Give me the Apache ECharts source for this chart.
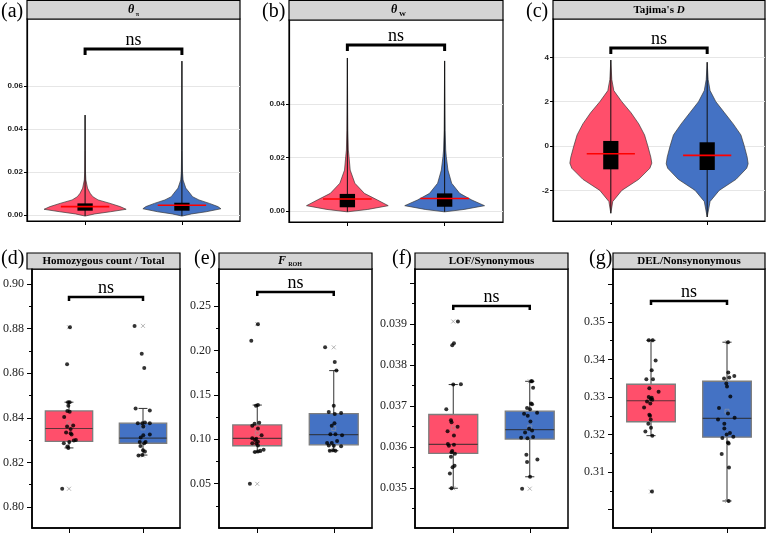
<!DOCTYPE html>
<html>
<head>
<meta charset="utf-8">
<title>Diversity and genetic load, two groups</title>
<script src="https://cdn.jsdelivr.net/npm/echarts@6.0.0/dist/echarts.min.js"></script>
<style>
  html, body { margin: 0; padding: 0; background: #fff; }
  #chart { width: 767px; height: 534px; }
</style>
</head>
<body>
<div id="chart"></div>
<script>
// ---- violin outlines: [value, half width in group units] ----
const piRed = [[-0.0005, 0], [0.0005, 0.10], [0.0015, 0.26], [0.00265, 0.424], [0.0039, 0.362], [0.0054, 0.258], [0.007, 0.134], [0.0085, 0.08], [0.0101, 0.052], [0.0125, 0.025], [0.0163, 0.008], [0.02, 0.004], [0.03, 0.002], [0.0465, 0]];
const piBlue = [[-0.0005, 0], [0.0005, 0.10], [0.0015, 0.25], [0.0029, 0.403], [0.0039, 0.372], [0.0054, 0.284], [0.007, 0.176], [0.0085, 0.11], [0.0101, 0.083], [0.0125, 0.04], [0.0163, 0.012], [0.02, 0.006], [0.03, 0.003], [0.0716, 0]];
const wRed = [[-0.0003, 0], [0.0006, 0.21], [0.002, 0.42], [0.0041, 0.31], [0.0066, 0.175], [0.0104, 0.077], [0.0153, 0.029], [0.0203, 0.017], [0.0228, 0.01], [0.03, 0.005], [0.04, 0.003], [0.0572, 0]];
const wBlue = [[-0.0003, 0], [0.0006, 0.2], [0.002, 0.41], [0.0041, 0.28], [0.0066, 0.155], [0.0104, 0.072], [0.0153, 0.034], [0.0203, 0.017], [0.0228, 0.011], [0.03, 0.005], [0.04, 0.003], [0.0561, 0]];
const tajRed = [[-3.03, 0], [-2.5, 0.02], [-2.0, 0.114], [-1.5, 0.29], [-1.0, 0.405], [-0.77, 0.425], [-0.5, 0.415], [0, 0.384], [0.5, 0.35], [1.0, 0.29], [1.5, 0.21], [2.0, 0.114], [2.5, 0.031], [3.0, 0.01], [3.88, 0]];
const tajBlue = [[-3.2, 0], [-2.5, 0.03], [-2.0, 0.125], [-1.5, 0.3], [-1.0, 0.41], [-0.8, 0.425], [-0.5, 0.415], [0, 0.385], [0.5, 0.35], [1.0, 0.27], [1.5, 0.18], [2.0, 0.09], [2.5, 0.03], [3.0, 0.01], [3.78, 0]];

// inner box of the violins: [q1, q3, mean]
const piStats = [[0.0020, 0.0054, 0.0039], [0.0020, 0.0057, 0.0045]];
const wStats = [[0.0014, 0.0064, 0.0045], [0.0016, 0.0066, 0.0047]];
const tajStats = [[-1.05, 0.23, -0.35], [-1.08, 0.17, -0.42]];

// ---- per-individual values (and horizontal jitter) ----
const homoRed = [0.8806, 0.8640, 0.8470, 0.8470, 0.8454, 0.8431, 0.8427, 0.8404, 0.8365, 0.8361, 0.8350, 0.8334, 0.8331, 0.8325, 0.8301, 0.8298, 0.8286, 0.8291, 0.8271, 0.8265, 0.8082];
const homoRedJit = [0.013, -0.026, -0.013, 0.009, -0.009, -0.022, 0.009, -0.065, 0.057, -0.026, 0.022, -0.039, 0.022, 0.035, 0.092, 0.065, -0.070, 0.004, -0.022, -0.009, -0.092];
const homoBlue = [0.8812, 0.8687, 0.8623, 0.8442, 0.8433, 0.8376, 0.8376, 0.8379, 0.8376, 0.8361, 0.8325, 0.8322, 0.8312, 0.8292, 0.8292, 0.8286, 0.8274, 0.8254, 0.8249, 0.8231, 0.8233];
const homoBlueJit = [-0.114, -0.017, 0.017, -0.100, 0.092, -0.070, -0.009, 0.026, 0.092, 0.004, 0.092, 0.004, -0.031, -0.044, 0.035, 0.017, -0.035, 0, 0.026, -0.061, -0.009];

const frohRed = [0.2295, 0.2108, 0.1384, 0.1377, 0.1185, 0.1175, 0.1150, 0.1120, 0.1045, 0.1010, 0.1005, 0.0990, 0.0970, 0.0955, 0.0950, 0.0930, 0.0880, 0.0870, 0.0855, 0.0860, 0.0497];
const frohRedJit = [0.009, -0.078, 0.009, -0.017, 0.026, -0.035, -0.065, 0.009, 0.057, -0.065, -0.013, -0.030, 0.009, -0.065, -0.013, 0.009, 0.083, 0.039, -0.030, 0.009, -0.096];
const frohBlue = [0.2034, 0.1869, 0.1772, 0.1377, 0.1306, 0.1284, 0.1295, 0.1180, 0.1150, 0.1056, 0.1056, 0.1045, 0.0980, 0.0957, 0.0957, 0.0930, 0.0925, 0.0920, 0.0870, 0.0870, 0.0875];
const frohBlueJit = [-0.113, 0.013, 0.035, 0, -0.065, 0.013, 0.096, 0.009, -0.026, -0.044, 0.022, 0.109, 0.044, -0.087, -0.026, -0.065, 0, 0.096, -0.052, 0.022, -0.009];

const lofRed = [0.03906, 0.03853, 0.03848, 0.03753, 0.03752, 0.03692, 0.03665, 0.03660, 0.03649, 0.03638, 0.03628, 0.03607, 0.03603, 0.03605, 0.03590, 0.03587, 0.03583, 0.03576, 0.03554, 0.03550, 0.03535, 0.03499];
const lofRedJit = [0.061, 0.009, -0.013, 0.100, 0, -0.091, -0.030, -0.022, 0.057, -0.074, 0.009, -0.070, -0.057, 0.009, -0.013, -0.022, 0.022, -0.030, 0.017, -0.009, -0.044, -0.022];
const lofBlue = [0.03760, 0.03760, 0.03744, 0.03706, 0.03704, 0.03695, 0.03692, 0.03681, 0.03676, 0.03683, 0.03662, 0.03644, 0.03640, 0.03635, 0.03622, 0.03621, 0.03624, 0.03581, 0.03569, 0.03563, 0.03527, 0.03498];
const lofBlueJit = [0.017, 0.030, 0.044, 0.017, 0.030, -0.035, 0.004, -0.074, -0.026, 0.096, 0.009, -0.009, 0.030, -0.061, -0.113, -0.030, 0.044, -0.044, 0.100, -0.035, 0.004, -0.100];

const delRed = [0.3451, 0.3451, 0.3397, 0.3371, 0.3347, 0.3347, 0.3323, 0.3314, 0.3300, 0.3298, 0.3295, 0.3293, 0.3288, 0.3283, 0.3272, 0.3253, 0.3250, 0.3240, 0.3229, 0.3218, 0.3208, 0.3197, 0.3048];
const delRedJit = [-0.030, 0.022, 0.061, 0.009, -0.061, 0.026, -0.022, 0.100, -0.030, 0.009, -0.004, 0.017, -0.052, -0.009, -0.091, -0.022, -0.013, -0.004, -0.035, 0, -0.074, 0.017, 0.013];
const delBlue = [0.3446, 0.3365, 0.3356, 0.3352, 0.3349, 0.3336, 0.3328, 0.3301, 0.3271, 0.3256, 0.3245, 0.3240, 0.3229, 0.3216, 0.3204, 0.3200, 0.3194, 0.3191, 0.3179, 0.3176, 0.3148, 0.3112, 0.3023];
const delBlueJit = [0.013, 0.017, 0.096, 0.030, -0.039, -0.009, 0, 0.044, -0.105, 0.013, 0.100, -0.118, -0.035, -0.035, 0.039, -0.004, 0.083, -0.061, 0.013, 0.022, -0.070, 0.026, 0.022];

// box stats: [lower whisker, q1, median, q3, upper whisker], and group means
const homoBox = [[0.8265, 0.8294, 0.8352, 0.8431, 0.8470], [0.8233, 0.8286, 0.8309, 0.8376, 0.8442]];
const frohBox = [[0.0855, 0.0926, 0.1008, 0.1160, 0.1384], [0.0870, 0.0937, 0.1052, 0.1287, 0.1772]];
const lofBox = [[0.03499, 0.03584, 0.03606, 0.03679, 0.03752], [0.03527, 0.03619, 0.03642, 0.03687, 0.03760]];
const delBox = [[0.3197, 0.3234, 0.3290, 0.3334, 0.3451], [0.3023, 0.3193, 0.3243, 0.3342, 0.3446]];
const homoMean = [0.8376, 0.8355];
const frohMean = [0.107, 0.112];
const lofMean = [0.03646, 0.03648];
const delMean = [0.3295, 0.3262];

// ---- axis ticks / labels ----
const piTicks = [0, 0.02, 0.04, 0.06];
const wTicks = [0, 0.02, 0.04];
const tajTicks = [-2, 0, 2, 4];
const homoTicks = [0.80, 0.82, 0.84, 0.86, 0.88, 0.90];
const homoMinor = [0.81, 0.83, 0.85, 0.87, 0.89];
const frohTicks = [0.05, 0.10, 0.15, 0.20, 0.25];
const frohMinor = [0.025, 0.075, 0.125, 0.175, 0.225, 0.275];
const lofTicks = [0.035, 0.036, 0.037, 0.038, 0.039, 0.040];
const lofLabels = [0.035, 0.036, 0.037, 0.038, 0.039];
const lofMinor = [0.0345, 0.0355, 0.0365, 0.0375, 0.0385, 0.0395];
const delTicks = [0.30, 0.31, 0.32, 0.33, 0.34, 0.35, 0.36];
const delLabels = [0.31, 0.32, 0.33, 0.34, 0.35];
const delMinor = [0.305, 0.315, 0.325, 0.335, 0.345, 0.355];

// height of the "ns" brackets
const piBracket = 0.0772, wBracket = 0.0621, tajBracket = 4.42;
const homoBracket = 0.8942, frohBracket = 0.2657, lofBracket = 0.03944, delBracket = 0.3556;

const RED = '#ff4f6b';
const BLUE = '#4472c4';
const COLORS = [RED, BLUE];
const SERIF = '"Liberation Serif", "Times New Roman", serif';
const SANS = '"Liberation Sans", Arial, sans-serif';

const grid = [], xAxis = [], yAxis = [], series = [], graphic = [];

function header(x, y, w, h) {
  graphic.push({ type: 'rect', shape: { x, y, width: w, height: h }, style: { fill: '#d4d4d4', stroke: '#000', lineWidth: 1.2 } });
}
function label(str, x, y, font, align) {
  graphic.push({ type: 'text', x, y, style: { text: str, font, fill: '#000', textAlign: align || 'center', textVerticalAlign: 'middle' } });
}

function addAxes(p, top) {
  const gi = grid.length;
  grid.push({ left: p.left, top: p.top, width: p.width, height: p.height, show: true, borderColor: '#000', borderWidth: top ? 1.2 : 1.5 });
  const xi = xAxis.length;
  xAxis.push({
    gridIndex: gi, type: 'value', min: top ? 0.4 : 0.5, max: top ? 2.6 : 2.5,
    axisLine: { onZero: false, lineStyle: { color: '#000', width: top ? 1.2 : 1.5 } },
    axisTick: { customValues: [1, 2], length: top ? 4 : 5, lineStyle: { color: '#000', width: 1 } },
    axisLabel: { show: false }, splitLine: { show: false }
  });
  const yi = yAxis.length;
  yAxis.push({
    gridIndex: gi, type: 'value', min: p.min, max: p.max,
    axisLine: { show: true, onZero: false, lineStyle: { color: '#000', width: top ? 1.2 : 1.5 } },
    axisTick: { show: true, customValues: p.ticks, length: top ? 3 : 5, lineStyle: { color: '#000', width: 1 } },
    axisLabel: top
      ? { customValues: p.labels || p.ticks, formatter: v => v.toFixed(p.dec), fontFamily: SANS, fontWeight: 'bold', fontSize: 8, color: '#222', margin: 4 }
      : { customValues: p.labels || p.ticks, formatter: v => v.toFixed(p.dec), fontFamily: SERIF, fontSize: 12, color: '#222', margin: 8 },
    splitLine: { show: top, lineStyle: { color: '#e6e6e6', width: 1 } }
  });
  if (p.minor) {
    yAxis.push({
      gridIndex: gi, type: 'value', min: p.min, max: p.max, position: 'left',
      axisLine: { show: false, onZero: false },
      axisTick: { show: true, customValues: p.minor, length: 3, lineStyle: { color: '#000', width: 1 } },
      axisLabel: { show: false }, splitLine: { show: false }
    });
  }
  return { xi, yi };
}

function addBracket(ax, level, top) {
  series.push({
    type: 'custom', xAxisIndex: ax.xi, yAxisIndex: ax.yi, silent: true, z: 5,
    data: [[1.5, level]],
    renderItem: (params, api) => {
      const a = api.coord([1, level]), b = api.coord([2, level]);
      const leg = top ? 6 : 4;
      return {
        type: 'group', children: [
          { type: 'polyline', shape: { points: [[a[0], a[1] + leg], a, b, [b[0], b[1] + leg]] }, style: { stroke: '#000', lineWidth: top ? 3 : 2.5, fill: null } },
          { type: 'text', x: (a[0] + b[0]) / 2, y: a[1] - 9, style: { text: 'ns', font: '18px ' + SERIF, fill: '#000', align: 'center', verticalAlign: 'middle' } }
        ]
      };
    }
  });
}

function addViolins(ax, profiles, stats) {
  series.push({
    type: 'custom', xAxisIndex: ax.xi, yAxisIndex: ax.yi, silent: true, z: 2,
    data: [[1, stats[0][2]], [2, stats[1][2]]],
    renderItem: (params, api) => {
      const i = params.dataIndex, cx = i + 1, prof = profiles[i], st = stats[i];
      const left = prof.map(p => api.coord([cx - p[1], p[0]]));
      const right = prof.slice().reverse().map(p => api.coord([cx + p[1], p[0]]));
      const bot = api.coord([cx, prof[0][0]]), topP = api.coord([cx, prof[prof.length - 1][0]]);
      const b1 = api.coord([cx - 0.079, st[0]]), b2 = api.coord([cx + 0.079, st[1]]);
      const m1 = api.coord([cx - 0.25, st[2]]), m2 = api.coord([cx + 0.25, st[2]]);
      return {
        type: 'group', children: [
          { type: 'polygon', shape: { points: left.concat(right) }, style: { fill: COLORS[i], stroke: '#3a3a3a', lineWidth: 0.7 } },
          { type: 'line', shape: { x1: bot[0], y1: bot[1], x2: topP[0], y2: topP[1] }, style: { stroke: '#111', lineWidth: 1 } },
          { type: 'rect', shape: { x: b1[0], y: b2[1], width: b2[0] - b1[0], height: b1[1] - b2[1] }, style: { fill: '#000' } },
          { type: 'line', shape: { x1: m1[0], y1: m1[1], x2: m2[0], y2: m2[1] }, style: { stroke: '#ff0000', lineWidth: 1.6 } }
        ]
      };
    }
  });
}

function addBoxes(ax, box, groups, jitters, means) {
  series.push({
    type: 'custom', xAxisIndex: ax.xi, yAxisIndex: ax.yi, silent: true, z: 2,
    data: [[1, box[0][2]], [2, box[1][2]]],
    renderItem: (params, api) => {
      const i = params.dataIndex, cx = i + 1, s = box[i];
      const lo = api.coord([cx, s[0]]), hi = api.coord([cx, s[4]]);
      const q1 = api.coord([cx - 0.32, s[1]]), q3 = api.coord([cx + 0.32, s[3]]);
      const md1 = api.coord([cx - 0.32, s[2]]), md2 = api.coord([cx + 0.32, s[2]]);
      const capL = api.coord([cx - 0.06, s[0]]), capR = api.coord([cx + 0.06, s[0]]);
      const capL2 = api.coord([cx - 0.06, s[4]]), capR2 = api.coord([cx + 0.06, s[4]]);
      const wStyle = { stroke: '#333', lineWidth: 1 };
      return {
        type: 'group', children: [
          { type: 'line', shape: { x1: lo[0], y1: lo[1], x2: hi[0], y2: hi[1] }, style: wStyle },
          { type: 'line', shape: { x1: capL[0], y1: capL[1], x2: capR[0], y2: capR[1] }, style: wStyle },
          { type: 'line', shape: { x1: capL2[0], y1: capL2[1], x2: capR2[0], y2: capR2[1] }, style: wStyle },
          { type: 'rect', shape: { x: q1[0], y: q3[1], width: q3[0] - q1[0], height: q1[1] - q3[1] }, style: { fill: COLORS[i], stroke: '#7d7d7d', lineWidth: 1.3 } },
          { type: 'line', shape: { x1: md1[0], y1: md1[1], x2: md2[0], y2: md2[1] }, style: { stroke: 'rgba(40,40,40,0.75)', lineWidth: 1.2 } }
        ]
      };
    }
  });
  groups.forEach((vals, g) => {
    series.push({
      type: 'scatter', xAxisIndex: ax.xi, yAxisIndex: ax.yi, silent: true, z: 4,
      symbolSize: 4, itemStyle: { color: '#000' },
      data: vals.map((v, k) => [g + 1 + jitters[g][k], v])
    });
    series.push({
      type: 'scatter', xAxisIndex: ax.xi, yAxisIndex: ax.yi, silent: true, z: 3,
      symbol: 'path://M0,0L10,10M10,0L0,10', symbolSize: 4,
      itemStyle: { color: 'rgba(0,0,0,0)', borderColor: '#8a8a8a', borderWidth: 0.8 },
      data: [[g + 1, Math.min(...vals)], [g + 1, Math.max(...vals)]]
    });
    series.push({
      type: 'scatter', xAxisIndex: ax.xi, yAxisIndex: ax.yi, silent: true, z: 3,
      symbol: 'rect', symbolSize: 4,
      itemStyle: { color: 'rgba(0,0,0,0)', borderColor: '#9a9a9a', borderWidth: 0.7 },
      data: [[g + 1, means[g]]]
    });
  });
}

// ---- top row: violins ----
let ax = addAxes({ left: 27, top: 19, width: 213, height: 202, min: -0.0028, max: 0.0912, ticks: piTicks, dec: 2 }, true);
addViolins(ax, [piRed, piBlue], piStats);
addBracket(ax, piBracket, true);

ax = addAxes({ left: 289, top: 20, width: 214, height: 202, min: -0.0041, max: 0.0714, ticks: wTicks, dec: 2 }, true);
addViolins(ax, [wRed, wBlue], wStats);
addBracket(ax, wBracket, true);

ax = addAxes({ left: 553, top: 19, width: 212, height: 202, min: -3.38, max: 5.73, ticks: tajTicks, dec: 0 }, true);
addViolins(ax, [tajRed, tajBlue], tajStats);
addBracket(ax, tajBracket, true);

// ---- bottom row: boxplots with points ----
ax = addAxes({ left: 27, top: 269, width: 153, height: 259, min: 0.7906, max: 0.9067, ticks: homoTicks, minor: homoMinor, dec: 2 }, false);
addBoxes(ax, homoBox, [homoRed, homoBlue], [homoRedJit, homoBlueJit], homoMean);
addBracket(ax, homoBracket, false);

ax = addAxes({ left: 219, top: 269, width: 153, height: 259, min: 0, max: 0.2916, ticks: frohTicks, minor: frohMinor, dec: 2 }, false);
addBoxes(ax, frohBox, [frohRed, frohBlue], [frohRedJit, frohBlueJit], frohMean);
addBracket(ax, frohBracket, false);

ax = addAxes({ left: 415, top: 269, width: 153, height: 259, min: 0.03402, max: 0.04034, ticks: lofTicks, labels: lofLabels, minor: lofMinor, dec: 3 }, false);
addBoxes(ax, lofBox, [lofRed, lofBlue], [lofRedJit, lofBlueJit], lofMean);
addBracket(ax, lofBracket, false);

ax = addAxes({ left: 613, top: 269, width: 152, height: 259, min: 0.2951, max: 0.3641, ticks: delTicks, labels: delLabels, minor: delMinor, dec: 2 }, false);
addBoxes(ax, delBox, [delRed, delBlue], [delRedJit, delBlueJit], delMean);
addBracket(ax, delBracket, false);

// ---- strip headers and panel letters ----
header(27, 0.5, 213, 18.5);
header(289, 0.5, 214, 19.5);
header(553, 0.5, 212, 18.5);
header(27, 253, 153, 16);
header(219, 253, 153, 16);
header(415, 253, 153, 16);
header(613, 253, 152, 16);

label('θ', 131, 10, 'italic bold 12px ' + SERIF);
label('π', 137.5, 14, 'bold 6px ' + SERIF);
label('θ', 394, 10, 'italic bold 12px ' + SERIF);
label('W', 402.5, 14.5, 'bold 7px ' + SERIF);
graphic.push({
  type: 'text', x: 659, y: 10,
  style: {
    text: "{a|Tajima's }{b|D}", textAlign: 'center', textVerticalAlign: 'middle',
    rich: { a: { font: 'bold 11px ' + SERIF, fill: '#000' }, b: { font: 'italic bold 11px ' + SERIF, fill: '#000' } }
  }
});
label('Homozygous count / Total', 103.5, 261, 'bold 11px ' + SERIF);
label('F', 282, 260.5, 'italic bold 12px ' + SERIF);
label('ROH', 295, 264, 'bold 6px ' + SERIF);
label('LOF/Synonymous', 491.5, 261, 'bold 11px ' + SERIF);
label('DEL/Nonsynonymous', 689, 261, 'bold 11px ' + SERIF);

label('(a)', 1, 12, '20px ' + SERIF, 'left');
label('(b)', 262, 12, '20px ' + SERIF, 'left');
label('(c)', 526, 12, '20px ' + SERIF, 'left');
label('(d)', 1, 259, '20px ' + SERIF, 'left');
label('(e)', 194, 259, '20px ' + SERIF, 'left');
label('(f)', 392, 259, '20px ' + SERIF, 'left');
label('(g)', 589, 259, '20px ' + SERIF, 'left');

const chart = echarts.init(document.getElementById('chart'));
chart.setOption({ animation: false, backgroundColor: '#fff', grid, xAxis, yAxis, series, graphic });
</script>
</body>
</html>
